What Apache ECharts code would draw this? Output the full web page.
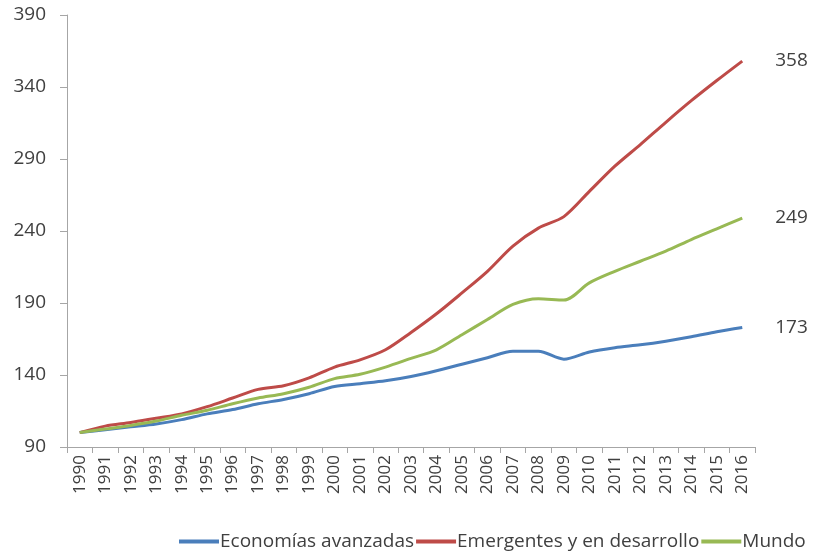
<!DOCTYPE html>
<html>
<head>
<meta charset="utf-8">
<script src="https://cdn.jsdelivr.net/npm/echarts@6/dist/echarts.min.js"></script>
<style>
  html, body { margin: 0; padding: 0; background: #fff; }
  #chart { width: 823px; height: 554px; }
</style>
</head>
<body>
<div id="chart"></div>
<script>
const years = ['1990','1991','1992','1993','1994','1995','1996','1997','1998','1999','2000','2001','2002','2003',
    '2004','2005','2006','2007','2008','2009','2010','2011','2012','2013','2014','2015','2016'];
const avanzadas = [100, 102, 104, 106, 109, 113, 116, 120, 123, 127, 132, 134, 136, 139,
    143, 147.5, 152, 156.5, 156.5, 151, 156, 159, 161, 163.5, 166.5, 170, 173];
const emergentes = [100, 104.5, 107, 110, 113, 118, 124, 130, 132.5, 138, 145.5, 150.5, 157.5, 169.5,
    182.5, 197, 212, 229.5, 242, 250, 267.5, 285, 300, 315.5, 330.5, 344.5, 358];
const mundo = [100, 102.5, 105, 108, 112, 115.5, 120, 124, 127, 131.5, 137.5, 140.5, 145.5, 151.5,
    157.5, 168, 178.5, 189, 193, 192, 204, 212, 219, 226, 234, 241.5, 249];

const chart = echarts.init(document.getElementById('chart'));
const txt = '#404040';
const axisCol = '#A6A6A6';
const font = 'Open Sans';

const mkSeries = (name, data, color) => ({
    name, type: 'line', data, smooth: 0.3, symbol: 'none',
    lineStyle: { color, width: 3 }, itemStyle: { color },
    endLabel: { show: true, formatter: '{c}', color: txt, fontSize: 19, fontFamily: font, distance: 33 },
});

chart.setOption({
    animation: false,
    grid: { left: 67, right: 68, top: 15, bottom: 107 },
    legend: {
        bottom: -2, left: 174, itemGap: 2, itemWidth: 40, itemHeight: 4,
        textStyle: { color: txt, fontSize: 19, fontFamily: font, padding: [0, 0, 0, -4] },
        data: [
            { name: 'Economías avanzadas', icon: 'rect' },
            { name: 'Emergentes y en desarrollo', icon: 'rect' },
            { name: 'Mundo', icon: 'rect' },
        ],
    },
    xAxis: {
        type: 'category', data: years, boundaryGap: true,
        axisLine: { lineStyle: { color: axisCol, width: 1 } },
        axisTick: { show: true, interval: 0, length: 6, lineStyle: { color: axisCol } },
        axisLabel: { interval: 0, rotate: 90, color: txt, fontSize: 17, fontFamily: font, margin: 8 },
    },
    yAxis: {
        type: 'value', min: 90, max: 390, interval: 50,
        axisLine: { show: true, lineStyle: { color: axisCol, width: 1 } },
        axisTick: { show: true, length: 7, lineStyle: { color: axisCol } },
        axisLabel: { color: txt, fontSize: 19, fontFamily: font, margin: 21 },
        splitLine: { show: false },
    },
    series: [
        mkSeries('Economías avanzadas', avanzadas, '#4A7EBB'),
        mkSeries('Emergentes y en desarrollo', emergentes, '#BE4B48'),
        mkSeries('Mundo', mundo, '#98B954'),
    ],
});
</script>
</body>
</html>
